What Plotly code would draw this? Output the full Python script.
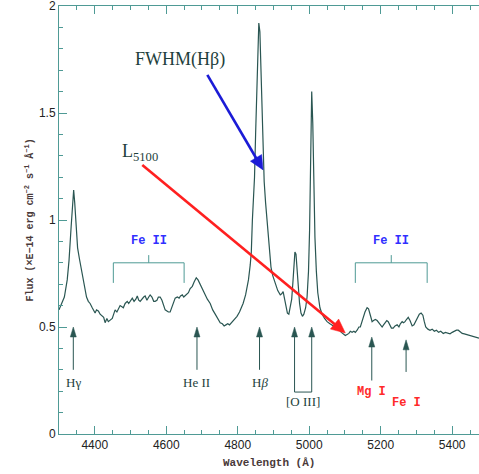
import math
import plotly.graph_objects as go

# ---- spectrum data ----
wavelength = [4300, 4305, 4309, 4315, 4323, 4328, 4334, 4338, 4341, 4344, 4348, 4352, 4357, 4362, 4365, 4369,
              4373, 4377, 4382, 4387, 4393, 4397, 4401, 4405, 4410, 4415, 4421, 4425, 4429, 4434, 4438, 4443,
              4449, 4453, 4457, 4462, 4467, 4471, 4476, 4480, 4485, 4491, 4495, 4500, 4505, 4510, 4515, 4519,
              4523, 4527, 4533, 4537, 4541, 4546, 4551, 4555, 4560, 4565, 4569, 4574, 4578, 4583, 4588, 4592,
              4597, 4602, 4606, 4611, 4615, 4620, 4625, 4631, 4636, 4640, 4645, 4649, 4653, 4658, 4662, 4667,
              4673, 4678, 4684, 4689, 4695, 4701, 4708, 4715, 4723, 4730, 4737, 4744, 4751, 4757, 4762, 4767,
              4772, 4777, 4782, 4787, 4792, 4798, 4805, 4810, 4815, 4822, 4830, 4835, 4838, 4841, 4844, 4847,
              4850, 4853, 4856, 4859, 4862, 4865, 4868, 4871, 4874, 4878, 4882, 4886, 4890, 4893, 4898, 4905,
              4912, 4919, 4923, 4927, 4931, 4935, 4939, 4943, 4947, 4951, 4954, 4957, 4960, 4963, 4966, 4969,
              4973, 4977, 4981, 4985, 4990, 4994, 4998, 5001, 5004, 5007, 5010, 5013, 5016, 5020, 5024, 5030,
              5036, 5043, 5050, 5058, 5067, 5075, 5082, 5090, 5097, 5101, 5106, 5111, 5115, 5120, 5125, 5129,
              5134, 5139, 5143, 5147, 5151, 5156, 5162, 5166, 5171, 5176, 5180, 5185, 5190, 5195, 5200, 5204,
              5208, 5213, 5217, 5221, 5226, 5230, 5235, 5240, 5246, 5251, 5255, 5260, 5264, 5268, 5272, 5277,
              5282, 5288, 5293, 5299, 5304, 5308, 5313, 5318, 5322, 5326, 5332, 5338, 5344, 5350, 5356, 5362,
              5368, 5375, 5381, 5387, 5394, 5400, 5406, 5412, 5417, 5422, 5428, 5434, 5440, 5446, 5452, 5458,
              5464, 5470, 5475]
flux = [0.58, 0.60, 0.61, 0.64, 0.72, 0.81, 0.97, 1.08, 1.14, 1.08, 0.97, 0.87, 0.82, 0.77, 0.74, 0.70,
        0.66, 0.64, 0.62, 0.61, 0.59, 0.58, 0.565, 0.58, 0.575, 0.56, 0.55, 0.545, 0.52, 0.54, 0.525, 0.53,
        0.54, 0.56, 0.58, 0.57, 0.59, 0.60, 0.595, 0.59, 0.61, 0.62, 0.61, 0.625, 0.635, 0.62, 0.63, 0.645,
        0.625, 0.62, 0.635, 0.64, 0.645, 0.625, 0.64, 0.65, 0.64, 0.62, 0.62, 0.625, 0.64, 0.64, 0.625, 0.60,
        0.58, 0.575, 0.57, 0.57, 0.59, 0.62, 0.635, 0.64, 0.635, 0.645, 0.65, 0.64, 0.645, 0.655, 0.66, 0.68,
        0.69, 0.71, 0.73, 0.72, 0.70, 0.675, 0.65, 0.63, 0.61, 0.58, 0.56, 0.54, 0.52, 0.515, 0.505, 0.51,
        0.515, 0.51, 0.52, 0.525, 0.535, 0.55, 0.57, 0.59, 0.61, 0.65, 0.72, 0.79, 0.85, 1.00, 1.10, 1.20,
        1.40, 1.60, 1.80, 1.92, 1.88, 1.70, 1.48, 1.30, 1.18, 1.08, 0.99, 0.92, 0.84, 0.78, 0.74, 0.70,
        0.67, 0.65, 0.655, 0.665, 0.63, 0.59, 0.565, 0.56, 0.59, 0.63, 0.70, 0.78, 0.85, 0.84, 0.76, 0.67,
        0.61, 0.565, 0.55, 0.56, 0.59, 0.64, 0.76, 0.95, 1.25, 1.60, 1.45, 1.15, 0.92, 0.76, 0.66, 0.59,
        0.56, 0.54, 0.525, 0.515, 0.505, 0.495, 0.49, 0.475, 0.465, 0.46, 0.465, 0.47, 0.48, 0.475, 0.48, 0.475,
        0.485, 0.50, 0.50, 0.52, 0.55, 0.57, 0.59, 0.585, 0.555, 0.525, 0.53, 0.535, 0.53, 0.52, 0.505, 0.50,
        0.51, 0.525, 0.53, 0.525, 0.51, 0.495, 0.495, 0.505, 0.51, 0.50, 0.515, 0.525, 0.52, 0.525, 0.535, 0.545,
        0.53, 0.505, 0.51, 0.53, 0.545, 0.56, 0.565, 0.555, 0.525, 0.50, 0.49, 0.485, 0.49, 0.48, 0.485, 0.475,
        0.48, 0.47, 0.475, 0.47, 0.468, 0.475, 0.48, 0.485, 0.485, 0.478, 0.47, 0.468, 0.465, 0.46, 0.457, 0.455,
        0.452, 0.45, 0.448]

x_ticks = [4400, 4600, 4800, 5000, 5200, 5400]
y_ticks = [0, 0.5, 1, 1.5, 2]
y_tick_text = ["0", "0.5", "1", "1.5", "2"]

# line identifications
line_labels = ["H&#947;", "He II", "H<i>&#946;</i>", "Mg I", "Fe I"]
line_waves = [4340, 4686, 4861, 5175, 5271]
line_tips = [0.50, 0.50, 0.50, 0.453, 0.44]
line_tails = [0.30, 0.30, 0.30, 0.25, 0.29]
line_label_y = [0.243, 0.243, 0.243, 0.196, 0.145]
oiii_waves = [4959, 5007]

X_RANGE = [4300, 5475]
Y_RANGE = [0, 2]
W, H = 479, 474
M = dict(l=59, r=0, t=6, b=40)
PX_X = (W - M["l"] - M["r"]) / (X_RANGE[1] - X_RANGE[0])   # px per Å
PX_Y = (H - M["t"] - M["b"]) / (Y_RANGE[1] - Y_RANGE[0])   # px per flux unit

AXC = "#4f9a95"
SPEC = "#2a5652"

fig = go.Figure()
fig.add_trace(go.Scatter(x=wavelength, y=flux, mode="lines",
                         line=dict(color=SPEC, width=1.2), showlegend=False, hoverinfo="skip"))

ann = []
shapes = []
serif = "Liberation Serif"
mono = "Liberation Mono"


def arrow(x, y, ax, ay, color, width, head_len, head_half):
    # direction in pixel space (y up)
    dx = (x - ax) * PX_X
    dy = (y - ay) * PX_Y
    L = math.hypot(dx, dy)
    ux, uy = dx / L, dy / L
    px, py = -uy, ux
    bx, by = -ux * head_len, -uy * head_len
    p1 = (x + (bx + px * head_half) / PX_X, y + (by + py * head_half) / PX_Y)
    p2 = (x + (bx - px * head_half) / PX_X, y + (by - py * head_half) / PX_Y)
    sx = x + (bx * 0.7) / PX_X
    sy = y + (by * 0.7) / PX_Y
    shapes.append(dict(type="line", xref="x", yref="y", x0=ax, y0=ay, x1=sx, y1=sy,
                       line=dict(color=color, width=width)))
    shapes.append(dict(type="path", xref="x", yref="y",
                       path=f"M{x},{y} L{p1[0]},{p1[1]} L{p2[0]},{p2[1]} Z",
                       fillcolor=color, line=dict(color=color, width=0.5)))


for lab, w, tip, tail, ly in zip(line_labels, line_waves, line_tips, line_tails, line_label_y):
    red = lab in ("Mg I", "Fe I")
    arrow(w, tip, w, tail, SPEC, 1, 10, 3)
    if red:
        ann.append(dict(x=w, y=ly, text="<b>" + lab + "</b>", showarrow=False,
                        font=dict(family=mono, size=12, color="#ff2a2a")))
    else:
        ann.append(dict(x=w, y=ly, text=lab, showarrow=False,
                        font=dict(family=serif, size=13, color="#1e3f3c")))

# [O III] doublet arrows joined by bracket
for w in oiii_waves:
    arrow(w, 0.50, w, 0.196, SPEC, 1, 10, 3)
shapes.append(dict(type="line", xref="x", yref="y", x0=oiii_waves[0], x1=oiii_waves[1], y0=0.196, y1=0.196,
                   line=dict(color=SPEC, width=1)))
ann.append(dict(x=(oiii_waves[0] + oiii_waves[1]) / 2, y=0.15, text="[O III]", showarrow=False,
                font=dict(family=serif, size=13, color="#1e3f3c")))

# Fe II brackets
for x0, x1 in [(4452, 4650), (5129, 5330)]:
    xc = (x0 + x1) / 2
    shapes.append(dict(type="path", xref="x", yref="y",
                       path=f"M{x0},0.706 L{x0},0.80 L{x1},0.80 L{x1},0.706 M{xc},0.80 L{xc},0.836",
                       line=dict(color=AXC, width=1)))
    ann.append(dict(x=xc, y=0.90, text="<b>Fe II</b>", showarrow=False,
                    font=dict(family=mono, size=12, color="#3030ff")))

# FWHM(Hβ) and L5100 arrows
arrow(4871, 1.234, 4715, 1.678, "#1b1bd6", 2.6, 14, 6.5)
ann.append(dict(x=4639, y=1.748, text="FWHM(H&#946;)", showarrow=False,
                font=dict(family=serif, size=18, color="#1e3f3c")))
arrow(5101, 0.472, 4533, 1.257, "#ff2020", 2.6, 14, 6.5)
ann.append(dict(x=4527, y=1.315, text="L<sub>5100</sub>", showarrow=False,
                font=dict(family=serif, size=18, color="#1e3f3c")))

# axis titles
ann.append(dict(xref="paper", yref="paper", x=0, y=0.5, xshift=-39, textangle=-90,
                text="<b>Flux (&#215;E&#8722;14 erg cm<sup>&#8722;2</sup> s<sup>&#8722;1</sup> &#197;<sup>&#8722;1</sup>)</b>",
                showarrow=False, font=dict(family=mono, size=10, color="#4a3a3a")))
ann.append(dict(xref="paper", yref="paper", x=0.5, y=0, yshift=-29, yanchor="middle",
                text="<b>Wavelength (&#197;)</b>", showarrow=False,
                font=dict(family=mono, size=11, color="#4a3a3a")))

fig.update_layout(
    width=W, height=H,
    margin=M,
    plot_bgcolor="white", paper_bgcolor="white",
    annotations=ann, shapes=shapes,
    xaxis=dict(range=X_RANGE, tickvals=x_ticks, ticks="inside", ticklen=8, tickcolor=AXC,
               showline=True, linecolor=AXC, linewidth=1, mirror="ticks", showgrid=False, zeroline=False,
               tickfont=dict(family="Liberation Sans", size=12, color="#222"),
               minor=dict(dtick=50, tick0=4300, ticks="inside", ticklen=4, tickcolor=AXC, showgrid=False)),
    yaxis=dict(range=Y_RANGE, tickvals=y_ticks, ticktext=y_tick_text, ticks="inside", ticklen=8,
               tickcolor=AXC, showline=True, linecolor=AXC, linewidth=1, showgrid=False, zeroline=False,
               ticklabeloverflow="allow",
               tickfont=dict(family="Liberation Sans", size=12, color="#222"),
               minor=dict(dtick=0.1, tick0=0, ticks="inside", ticklen=4, tickcolor=AXC, showgrid=False)),
)

fig.write_html("out.html")
